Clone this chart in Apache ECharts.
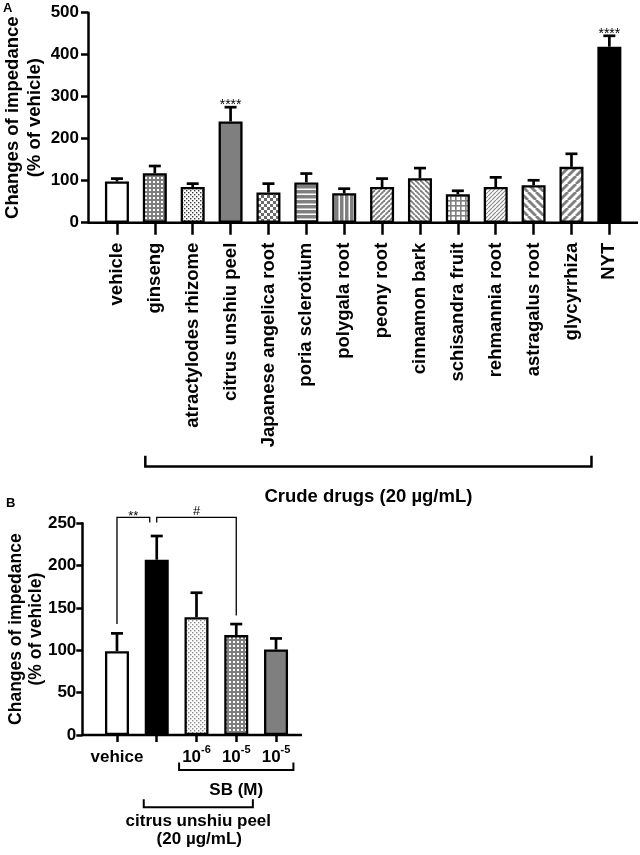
<!DOCTYPE html>
<html>
<head>
<meta charset="utf-8">
<script src="https://cdn.jsdelivr.net/npm/echarts@6/dist/echarts.min.js"></script>
<style>
html, body { margin: 0; padding: 0; background: #fff; }
#main { width: 640px; height: 855px; }
</style>
</head>
<body>
<div id="main"></div>
<script>
// panel A: crude drugs
var drugNames = ['vehicle', 'ginseng', 'atractylodes rhizome', 'citrus unshiu peel', 'Japanese angelica root',
    'poria sclerotium', 'polygala root', 'peony root', 'cinnamon bark', 'schisandra fruit',
    'rehmannia root', 'astragalus root', 'glycyrrhiza', 'NYT'];
var drugMeans = [98, 118, 85, 241, 72, 96, 70, 85, 106, 68, 85, 89, 133, 419];
var drugErrors = [7, 17, 8, 34, 21, 21, 11, 20, 24, 8, 23, 12, 31, 26];
var drugStars = ['', '', '', '****', '', '', '', '', '', '', '', '', '', '****'];
var drugFills = ['white', 'grayDots', 'fineDots', 'gray', 'checker', 'hStripes', 'vStripes',
    'diagUp', 'diagDown', 'grid', 'fineDiag', 'wideDown', 'wideUp', 'black'];
var yTicksA = [0, 100, 200, 300, 400, 500];

// panel B: SB
var sbLabels = ['vehice', '', '10^-6', '10^-5', '10^-5'];
var sbMeans = [99, 207, 139, 118, 101];
var sbErrors = [21, 28, 29, 13, 13];
var sbFills = ['white', 'black', 'lightDots', 'grayDots', 'gray'];
var yTicksB = [0, 50, 100, 150, 200, 250];

// significance brackets in B
var sigFrom = [0, 1];
var sigTo = [1, 3];
var sigText = ['**', '#'];
var sigTop = 257;
var sigFromEnd = [131, 251];
var sigToEnd = [251, 141];

var FONT = 'Liberation Sans, Arial, sans-serif';
var GRAY = '#7f7f7f';

function tile(w, h, draw) {
    var c = document.createElement('canvas');
    c.width = w;
    c.height = h;
    draw(c.getContext('2d'), w, h);
    return { image: c, repeat: 'repeat' };
}
function stripes(n, lw, dir, col) {
    return tile(n, n, function (g) {
        g.fillStyle = '#fff';
        g.fillRect(0, 0, n, n);
        g.strokeStyle = col;
        g.lineWidth = lw;
        for (var k = -1; k <= 1; k++) {
            g.beginPath();
            if (dir == '/') { g.moveTo(k * n, n); g.lineTo(k * n + n, 0); }
            else { g.moveTo(k * n, 0); g.lineTo(k * n + n, n); }
            g.stroke();
        }
    });
}
function dots(w, h, bg, fg, pts, s) {
    return tile(w, h, function (g) {
        g.fillStyle = bg;
        g.fillRect(0, 0, w, h);
        g.fillStyle = fg;
        pts.forEach(function (p) { g.fillRect(p[0], p[1], s, s); });
    });
}
var fills = {
    white: function () { return '#fff'; },
    black: function () { return '#000'; },
    gray: function () { return GRAY; },
    grayDots: function () { return dots(4, 4, GRAY, '#fff', [[1, 1]], 2); },
    fineDots: function () { return dots(4, 4, '#fff', '#3a3a3a', [[0, 0], [2, 2]], 1.4); },
    lightDots: function () { return dots(4, 4, '#fff', '#8a8a8a', [[0, 0], [2, 2]], 1.4); },
    checker: function () { return dots(6, 6, '#fff', '#6a6a6a', [[0, 0], [3, 3]], 3); },
    hStripes: function () {
        return tile(5, 5, function (g, w, h) {
            g.fillStyle = GRAY; g.fillRect(0, 0, w, h);
            g.fillStyle = '#fff'; g.fillRect(0, 3.5, w, 1.5);
        });
    },
    vStripes: function () {
        return tile(5, 5, function (g, w, h) {
            g.fillStyle = GRAY; g.fillRect(0, 0, w, h);
            g.fillStyle = '#fff'; g.fillRect(3.5, 0, 1.5, h);
        });
    },
    grid: function () {
        return tile(5, 5, function (g, w, h) {
            g.fillStyle = '#fff'; g.fillRect(0, 0, w, h);
            g.fillStyle = GRAY; g.fillRect(0, 0, w, 1.6); g.fillRect(0, 0, 1.6, h);
        });
    },
    diagUp: function () { return stripes(5, 1.8, '/', GRAY); },
    diagDown: function () { return stripes(5, 1.8, '\\', GRAY); },
    fineDiag: function () { return stripes(4, 1.2, '/', '#8a8a8a'); },
    wideDown: function () { return stripes(8, 2.8, '\\', GRAY); },
    wideUp: function () { return stripes(8, 2.8, '/', GRAY); }
};

function barData(means, kinds) {
    return means.map(function (v, i) {
        return { value: v, itemStyle: { color: fills[kinds[i]]() } };
    });
}

function errorSeries(idx, means, errs, stars, capHalf, starSize) {
    return {
        type: 'custom',
        xAxisIndex: idx,
        yAxisIndex: idx,
        z: 5,
        clip: false,
        silent: true,
        data: means.map(function (m, i) { return [i, m]; }),
        renderItem: function (params, api) {
            var i = params.dataIndex;
            var base = api.coord([i, means[i]]);
            var tip = api.coord([i, means[i] + errs[i]]);
            var st = { stroke: '#000', lineWidth: 2.7 };
            var kids = [
                { type: 'line', shape: { x1: base[0], y1: base[1], x2: tip[0], y2: tip[1] }, style: st },
                { type: 'line', shape: { x1: tip[0] - capHalf, y1: tip[1], x2: tip[0] + capHalf, y2: tip[1] }, style: st }
            ];
            if (stars && stars[i]) {
                kids.push({
                    type: 'text', x: tip[0], y: tip[1] + 5,
                    style: { text: stars[i], fontSize: starSize, fontFamily: FONT, fill: '#000', align: 'center', verticalAlign: 'bottom' }
                });
            }
            return { type: 'group', children: kids };
        }
    };
}

var boldText = { color: '#000', fontWeight: 'bold', fontFamily: FONT };

var chart = echarts.init(document.getElementById('main'));
var option = {
    animation: false,
    backgroundColor: '#fff',
    textStyle: { fontFamily: FONT },
    grid: [
        { left: 98, right: 11.7, top: 12.7, bottom: 632.3, outerBoundsMode: 'none' },
        { left: 97.1, right: 344.1, top: 523.3, bottom: 120, outerBoundsMode: 'none' }
    ],
    xAxis: [
        {
            type: 'category', gridIndex: 0, data: drugNames,
            axisLine: { show: false },
            axisTick: { show: true, alignWithLabel: true, length: 12, lineStyle: { color: '#000', width: 2.5 } },
            axisLabel: Object.assign({ rotate: 90, margin: 20, fontSize: 18.5, interval: 0 }, boldText)
        },
        {
            type: 'category', gridIndex: 1, data: sbLabels,
            axisLine: { show: false },
            axisTick: { show: true, alignWithLabel: true, length: 7, lineStyle: { color: '#000', width: 2.5 } },
            axisLabel: {
                interval: 0, margin: 9,
                formatter: function (v) {
                    var p = v.split('^');
                    return p.length > 1 ? '{b|' + p[0] + '}{s|' + p[1] + '}' : '{b|' + v + '}';
                },
                rich: {
                    b: { fontSize: 17, fontWeight: 'bold', fontFamily: FONT, color: '#000', lineHeight: 22, verticalAlign: 'bottom' },
                    s: { fontSize: 11, fontWeight: 'bold', fontFamily: FONT, color: '#000', lineHeight: 12, verticalAlign: 'top' }
                }
            }
        }
    ],
    yAxis: [
        {
            type: 'value', gridIndex: 0, offset: 10,
            min: yTicksA[0], max: yTicksA[yTicksA.length - 1], interval: yTicksA[1] - yTicksA[0],
            axisLine: { show: true, lineStyle: { color: '#000', width: 2.5 } },
            axisTick: { show: true, length: 7, lineStyle: { color: '#000', width: 2.5 } },
            axisLabel: Object.assign({ fontSize: 17, margin: 9 }, boldText),
            splitLine: { show: false },
            name: 'Changes of impedance\n(% of vehicle)',
            nameLocation: 'middle', nameGap: 42, nameMoveOverlap: false,
            nameTextStyle: Object.assign({ fontSize: 18.5, lineHeight: 22 }, boldText)
        },
        {
            type: 'value', gridIndex: 1, offset: 14.8,
            min: yTicksB[0], max: yTicksB[yTicksB.length - 1], interval: yTicksB[1] - yTicksB[0],
            axisLine: { show: true, lineStyle: { color: '#000', width: 2.5 } },
            axisTick: { show: true, length: 6, lineStyle: { color: '#000', width: 2.5 } },
            axisLabel: Object.assign({ fontSize: 17, margin: 6 }, boldText),
            splitLine: { show: false },
            name: 'Changes of impedance\n(% of vehicle)',
            nameLocation: 'middle', nameGap: 36, nameMoveOverlap: false,
            nameTextStyle: Object.assign({ fontSize: 17.5, lineHeight: 20 }, boldText)
        }
    ],
    series: [
        {
            type: 'bar', xAxisIndex: 0, yAxisIndex: 0, barWidth: 24, silent: true,
            itemStyle: { borderColor: '#000', borderWidth: 2.3 },
            data: barData(drugMeans, drugFills)
        },
        errorSeries(0, drugMeans, drugErrors, drugStars, 6, 14),
        {
            type: 'bar', xAxisIndex: 1, yAxisIndex: 1, barWidth: 24, silent: true,
            itemStyle: { borderColor: '#000', borderWidth: 2.3 },
            data: barData(sbMeans, sbFills)
        },
        errorSeries(1, sbMeans, sbErrors, null, 6, 13),
        {
            type: 'custom', xAxisIndex: 1, yAxisIndex: 1, clip: false, silent: true, z: 6,
            data: sigFrom.map(function (f, i) { return [f, sigTop]; }),
            renderItem: function (params, api) {
                var i = params.dataIndex;
                var nudge = i == 0 ? -7 : 0;
                var a = api.coord([sigFrom[i], sigFromEnd[i]]);
                var at = api.coord([sigFrom[i], sigTop]);
                var b = api.coord([sigTo[i], sigToEnd[i]]);
                var bt = api.coord([sigTo[i], sigTop]);
                var bx = bt[0] + nudge;
                var isStar = sigText[i].indexOf('*') >= 0;
                return {
                    type: 'group',
                    children: [
                        {
                            type: 'polyline',
                            shape: { points: [[a[0], a[1]], [at[0], at[1]], [bx, bt[1]], [bx, b[1]]] },
                            style: { stroke: '#000', lineWidth: 1.3, fill: null }
                        },
                        {
                            type: 'text', x: (at[0] + bx) / 2, y: at[1] + (isStar ? 6 : 1),
                            style: { text: sigText[i], fontSize: 13, fontFamily: FONT, fill: '#000', align: 'center', verticalAlign: 'bottom' }
                        }
                    ]
                };
            }
        }
    ]
};
chart.setOption(option);

// axis lines and group brackets under the axes
function px(g, cat, val) {
    return chart.convertToPixel({ xAxisIndex: g, yAxisIndex: g }, [cat, val]);
}
var lineA = px(0, 0, 0)[1];
var lineB = px(1, 0, 0)[1];
var thick = { stroke: '#000', lineWidth: 2.5, fill: null };
var midStyle = { stroke: '#000', lineWidth: 2, fill: null };

function bracket(x1, x2, y, h, style) {
    return { type: 'polyline', z: 10, shape: { points: [[x1, y - h], [x1, y], [x2, y], [x2, y - h]] }, style: style };
}
function label(text, x, y, size) {
    return {
        type: 'text', z: 10, x: x, y: y,
        style: { text: text, fontSize: size, fontWeight: 'bold', fontFamily: FONT, fill: '#000', align: 'center', verticalAlign: 'middle' }
    };
}

var crudeL = px(0, 1, 0)[0] - 9.5, crudeR = px(0, 12, 0)[0] + 20;
var sbL = px(1, 2, 0)[0] - 17.4, sbR = px(1, 4, 0)[0] + 17.4;
var cupL = px(1, 1, 0)[0] - 13, cupR = px(1, 3, 0)[0] + 16.6;

chart.setOption({
    graphic: [
        { type: 'line', z: 10, shape: { x1: 88, y1: lineA, x2: 638, y2: lineA }, style: { stroke: '#000', lineWidth: 2.5 } },
        { type: 'line', z: 10, shape: { x1: 82.3, y1: lineB, x2: 302, y2: lineB }, style: { stroke: '#000', lineWidth: 2.5 } },
        bracket(crudeL, crudeR, 466.4, 10.7, thick),
        label('Crude drugs (20 \u00b5g/mL)', (crudeL + crudeR) / 2, 497, 18.5),
        bracket(sbL, sbR, 770, 7.5, midStyle),
        label('SB (M)', (sbL + sbR) / 2, 790, 17),
        bracket(cupL, cupR, 807.3, 8, midStyle),
        label('citrus unshiu peel', (cupL + cupR) / 2, 821, 17),
        label('(20 \u00b5g/mL)', (cupL + cupR) / 2 + 1, 839, 17),
        {
            type: 'text', z: 10, x: 3, y: 2,
            style: { text: 'A', fontSize: 13, fontWeight: 'bold', fontFamily: FONT, fill: '#000' }
        },
        {
            type: 'text', z: 10, x: 6, y: 497,
            style: { text: 'B', fontSize: 13, fontWeight: 'bold', fontFamily: FONT, fill: '#000' }
        }
    ]
});
</script>
</body>
</html>
